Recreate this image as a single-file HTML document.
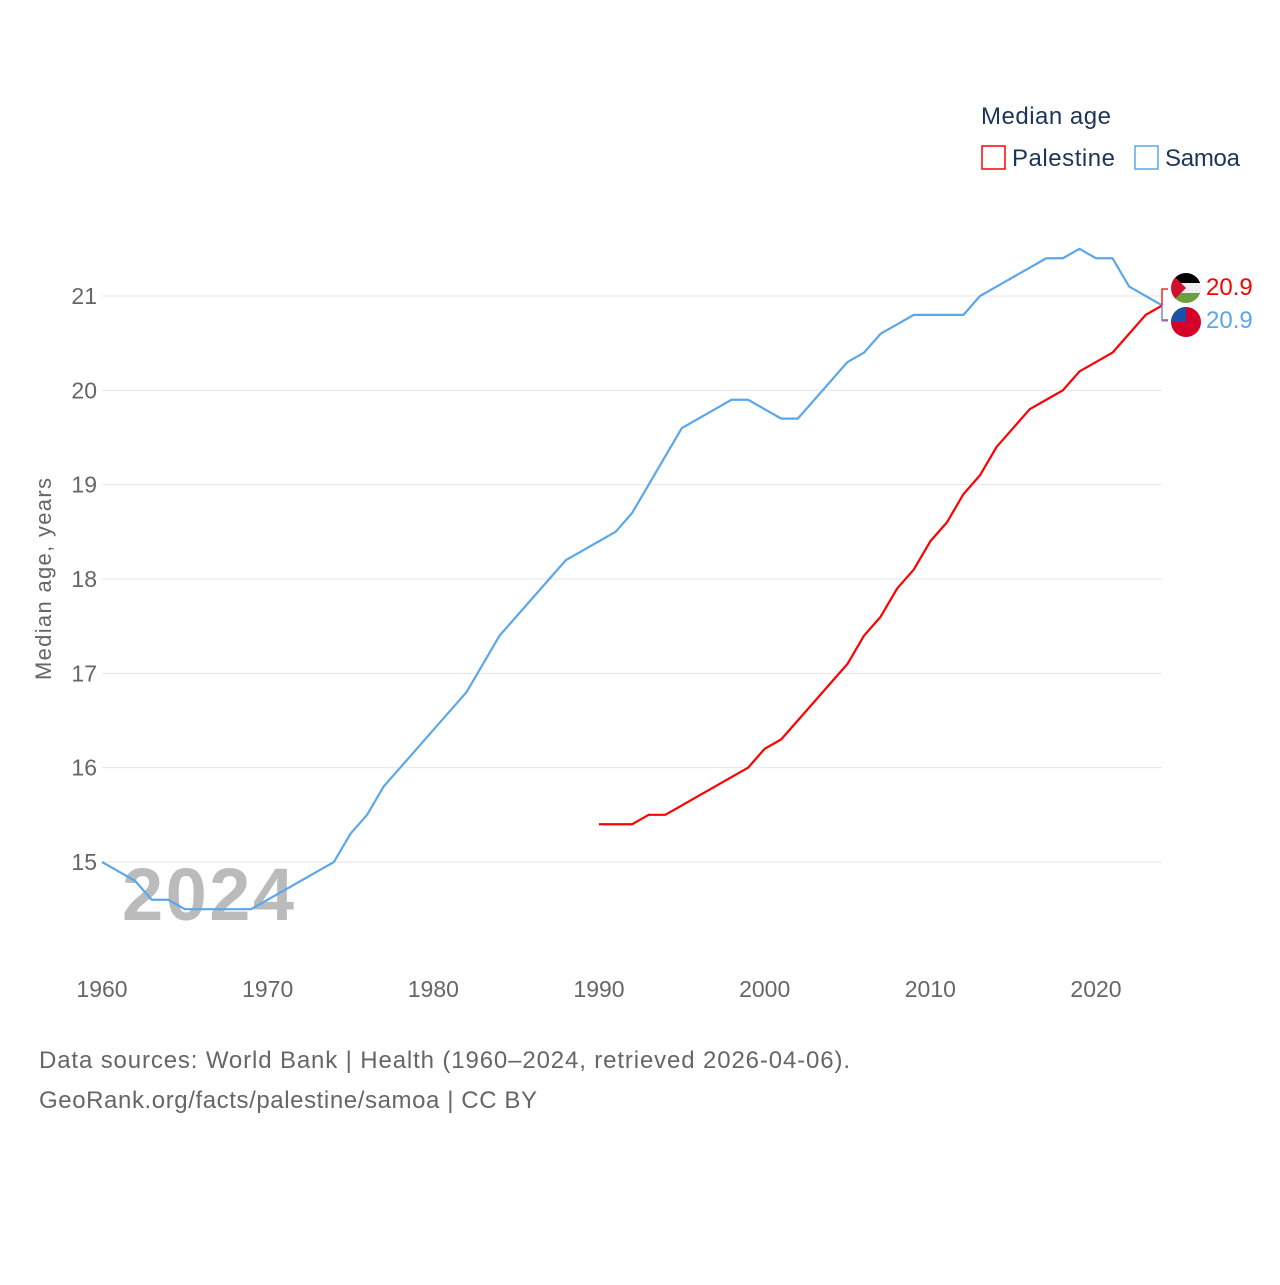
<!DOCTYPE html>
<html><head><meta charset="utf-8"><style>
body{margin:0;background:#fff;font-family:"Liberation Sans",sans-serif}
</style></head><body>
<svg id="chart" width="1280" height="1280" xmlns="http://www.w3.org/2000/svg" style="font-family:'Liberation Sans',sans-serif">
<text x="981" y="124" font-size="24" fill="#1d3557" textLength="130">Median age</text>
<g><rect x="982" y="146" width="23" height="23" fill="none" stroke="#f00" stroke-width="1.5"/><text x="1012" y="166" font-size="24" fill="#1d3557" textLength="103">Palestine</text></g>
<g><rect x="1135" y="146" width="23" height="23" fill="none" stroke="#5ba7ea" stroke-width="1.5"/><text x="1165" y="166" font-size="24" fill="#1d3557" textLength="75">Samoa</text></g>
<g id="grid"></g>
<text x="208" y="920" font-size="74" font-weight="bold" fill="#bbb" text-anchor="middle" textLength="172">2024</text>
<g id="lines"></g>
<text transform="translate(51,579) rotate(-90)" font-size="22" fill="#666" text-anchor="middle" textLength="202">Median age, years</text>
<g>
<path d="M1168,289 H1162 V320 H1168" fill="none" stroke="#f00" stroke-width="1.3"/>
<path d="M1162,305 V321 H1168" fill="none" stroke="#5ba7ea" stroke-width="1.3"/>
<g><clipPath id="c1"><circle cx="1186" cy="288" r="15"/></clipPath><g clip-path="url(#c1)"><rect x="1171" y="273" width="30" height="10" fill="#000"/><rect x="1171" y="283" width="30" height="10" fill="#eee"/><rect x="1171" y="293" width="30" height="10" fill="#6a9f3c"/><path d="M1171,273 L1186,288 L1171,303Z" fill="#d0102c"/></g></g>
<g><clipPath id="c2"><circle cx="1186" cy="322" r="15"/></clipPath><g clip-path="url(#c2)"><rect x="1171" y="307" width="30" height="30" fill="#d40029"/><rect x="1171" y="307" width="15" height="15" fill="#1a52a8"/></g></g>
<text x="1206" y="295" font-size="24" fill="#f00">20.9</text>
<text x="1206" y="328" font-size="24" fill="#5ba7ea">20.9</text>
</g>
<text x="39" y="1068" font-size="24" fill="#666" textLength="811">Data sources: World Bank | Health (1960–2024, retrieved 2026-04-06).</text>
<text x="39" y="1108" font-size="24" fill="#666" textLength="498">GeoRank.org/facts/palestine/samoa | CC BY</text>
</svg>
<script>
const yTicks=[15,16,17,18,19,20,21];
const xTicks=[1960,1970,1980,1990,2000,2010,2020];
const samoaYears=[1960,1961,1962,1963,1964,1965,1966,1967,1968,1969,1970,1971,1972,1973,1974,1975,1976,1977,1978,1979,1980,1981,1982,1983,1984,1985,1986,1987,1988,1989,1990,1991,1992,1993,1994,1995,1996,1997,1998,1999,2000,2001,2002,2003,2004,2005,2006,2007,2008,2009,2010,2011,2012,2013,2014,2015,2016,2017,2018,2019,2020,2021,2022,2023,2024];
const samoaValues=[15.0,14.9,14.8,14.6,14.6,14.5,14.5,14.5,14.5,14.5,14.6,14.7,14.8,14.9,15.0,15.3,15.5,15.8,16.0,16.2,16.4,16.6,16.8,17.1,17.4,17.6,17.8,18.0,18.2,18.3,18.4,18.5,18.7,19.0,19.3,19.6,19.7,19.8,19.9,19.9,19.8,19.7,19.7,19.9,20.1,20.3,20.4,20.6,20.7,20.8,20.8,20.8,20.8,21.0,21.1,21.2,21.3,21.4,21.4,21.5,21.4,21.4,21.1,21.0,20.9];
const palestineYears=[1990,1991,1992,1993,1994,1995,1996,1997,1998,1999,2000,2001,2002,2003,2004,2005,2006,2007,2008,2009,2010,2011,2012,2013,2014,2015,2016,2017,2018,2019,2020,2021,2022,2023,2024];
const palestineValues=[15.4,15.4,15.4,15.5,15.5,15.6,15.7,15.8,15.9,16.0,16.2,16.3,16.5,16.7,16.9,17.1,17.4,17.6,17.9,18.1,18.4,18.6,18.9,19.1,19.4,19.6,19.8,19.9,20.0,20.2,20.3,20.4,20.6,20.8,20.9];
const NS="http://www.w3.org/2000/svg";
const X=yr=>102+(yr-1960)*(1096-102)/60;
const Y=v=>296+(21-v)*(862-296)/6;
const grid=document.getElementById('grid');
yTicks.forEach(t=>{
 const l=document.createElementNS(NS,'line');
 l.setAttribute('x1',102);l.setAttribute('x2',1162);l.setAttribute('y1',Y(t));l.setAttribute('y2',Y(t));
 l.setAttribute('stroke','#e6e6e6');l.setAttribute('stroke-width','1');
 
 
 grid.appendChild(l);
 const tx=document.createElementNS(NS,'text');
 tx.setAttribute('x',97);tx.setAttribute('y',Y(t)+8);tx.setAttribute('text-anchor','end');
 tx.setAttribute('font-size','23');tx.setAttribute('fill','#666');tx.textContent=t;
 
 
 grid.appendChild(tx);
});
xTicks.forEach(t=>{
 const tx=document.createElementNS(NS,'text');
 tx.setAttribute('x',X(t));tx.setAttribute('y',997);tx.setAttribute('text-anchor','middle');
 tx.setAttribute('font-size','23');tx.setAttribute('fill','#666');tx.textContent=t;
 
 
 grid.appendChild(tx);
});
const lines=document.getElementById('lines');
function draw(xs,vs,color,name){
 const p=document.createElementNS(NS,'polyline');
 p.setAttribute('points',xs.map((x,i)=>X(x)+','+Y(vs[i])).join(' '));
 p.setAttribute('fill','none');p.setAttribute('stroke',color);p.setAttribute('stroke-width','2.2');
 p.setAttribute('stroke-linejoin','round');
 
 
 lines.appendChild(p);
}
draw(samoaYears,samoaValues,'#5ba7ea','samoa-line');
draw(palestineYears,palestineValues,'#f00','palestine-line');
</script>
</body></html>
